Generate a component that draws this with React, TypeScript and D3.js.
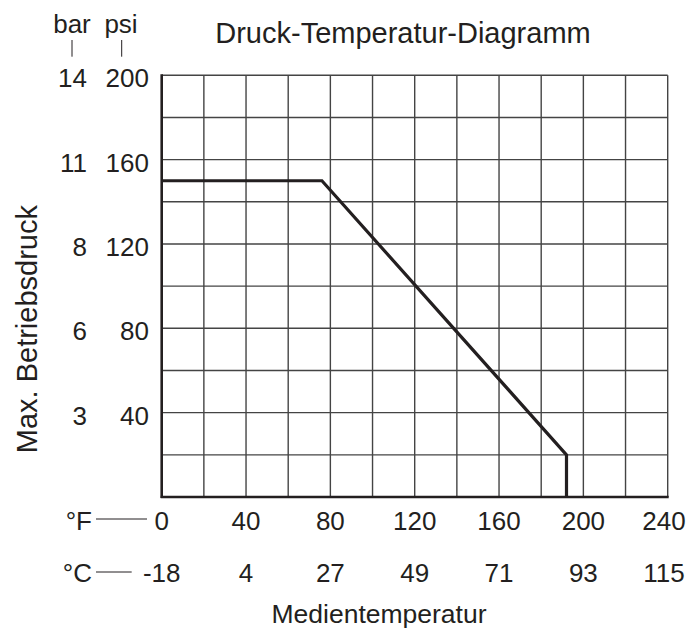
import * as d3 from "d3";

// Medientemperatur in °F (x axis) and the matching °C labels
const fahrenheitTicks = [0, 40, 80, 120, 160, 200, 240];
const celsiusLabels = ["-18", "4", "27", "49", "71", "93", "115"];

// Max. Betriebsdruck in psi with the bar labels shown beside them
const psiTicks = [40, 80, 120, 160, 200];
const barLabels = ["3", "6", "8", "11", "14"];

// Pressure-temperature limit curve
const curveF = [0, 76, 192, 192];
const curvePsi = [150, 150, 20, 0];

const W = 694;
const H = 631;
const margin = { top: 75.3, right: 26.3, bottom: 134, left: 161.7 };
const font = "'Liberation Sans', Arial, Helvetica, sans-serif";
const ink = "#231f20";

export default function App() {
  const x = d3
    .scaleLinear()
    .domain([0, 240])
    .range([margin.left, W - margin.right]);
  const y = d3
    .scaleLinear()
    .domain([0, 200])
    .range([H - margin.bottom, margin.top]);

  const pts = curveF.map((f, i) => [f, curvePsi[i]] as [number, number]);
  const line = d3
    .line<[number, number]>()
    .x((d) => x(d[0]))
    .y((d) => y(d[1]));

  const [x0, x1] = x.range();
  const [y0, y1] = y.range();

  return (
    <svg
      width={W}
      height={H}
      style={{ position: "absolute", left: 0, top: 0, background: "#fff" }}
      fontFamily={font}
      fill={ink}
    >
      {/* grid */}
      {x.ticks(12).map((t) => (
        <line key={"gx" + t} x1={x(t)} x2={x(t)} y1={y1} y2={y0} stroke="#444" strokeWidth={1.4} />
      ))}
      {y.ticks(10).map((t) => (
        <line key={"gy" + t} x1={x0} x2={x1} y1={y(t)} y2={y(t)} stroke="#444" strokeWidth={1.4} />
      ))}
      {/* axes */}
      <line x1={x0} x2={x0} y1={y1 - 1} y2={y0 + 1} stroke={ink} strokeWidth={2.6} />
      <line x1={x0 - 1} x2={x1 + 1} y1={y0} y2={y0} stroke={ink} strokeWidth={2.6} />

      {/* curve */}
      <path d={line(pts) ?? ""} fill="none" stroke={ink} strokeWidth={3.2} strokeLinejoin="miter" />

      {/* title */}
      <text x={403} y={43} fontSize={29} textAnchor="middle">
        Druck-Temperatur-Diagramm
      </text>

      {/* y axis headers */}
      <text x={72} y={33} fontSize={26} textAnchor="middle">bar</text>
      <text x={121} y={33} fontSize={26} textAnchor="middle">psi</text>
      <line x1={72} x2={72} y1={40} y2={56.7} stroke={ink} strokeWidth={1} />
      <line x1={121.7} x2={121.7} y1={40} y2={56.7} stroke={ink} strokeWidth={1} />

      {/* y tick labels */}
      {psiTicks.map((t, i) => (
        <g key={"yl" + t} transform={`translate(0,${y(t) + 3})`}>
          <text x={149} fontSize={26} textAnchor="end" dominantBaseline="central">
            {t}
          </text>
          <text x={87} fontSize={26} textAnchor="end" dominantBaseline="central">
            {barLabels[i]}
          </text>
        </g>
      ))}

      {/* y axis title */}
      <text
        transform={`translate(37,${(y0 + y1) / 2 + 43}) rotate(-90)`}
        fontSize={29}
        textAnchor="middle"
      >
        Max. Betriebsdruck
      </text>

      {/* x tick labels */}
      {fahrenheitTicks.map((t, i) => (
        <g key={"xl" + t} transform={`translate(${Math.min(x(t), 664)},0)`}>
          <text y={521} fontSize={26} textAnchor="middle" dominantBaseline="central">
            {t}
          </text>
          <text y={573} fontSize={26} textAnchor="middle" dominantBaseline="central">
            {celsiusLabels[i]}
          </text>
        </g>
      ))}
      <text x={92} y={521} fontSize={26} textAnchor="end" dominantBaseline="central">°F</text>
      <line x1={96} x2={147} y1={519} y2={519} stroke={ink} strokeWidth={1} />
      <text x={92} y={573} fontSize={26} textAnchor="end" dominantBaseline="central">°C</text>
      <line x1={96} x2={131.7} y1={572} y2={572} stroke={ink} strokeWidth={1} />

      {/* x axis title */}
      <text x={379} y={623} fontSize={26.5} textAnchor="middle">
        Medientemperatur
      </text>
    </svg>
  );
}
